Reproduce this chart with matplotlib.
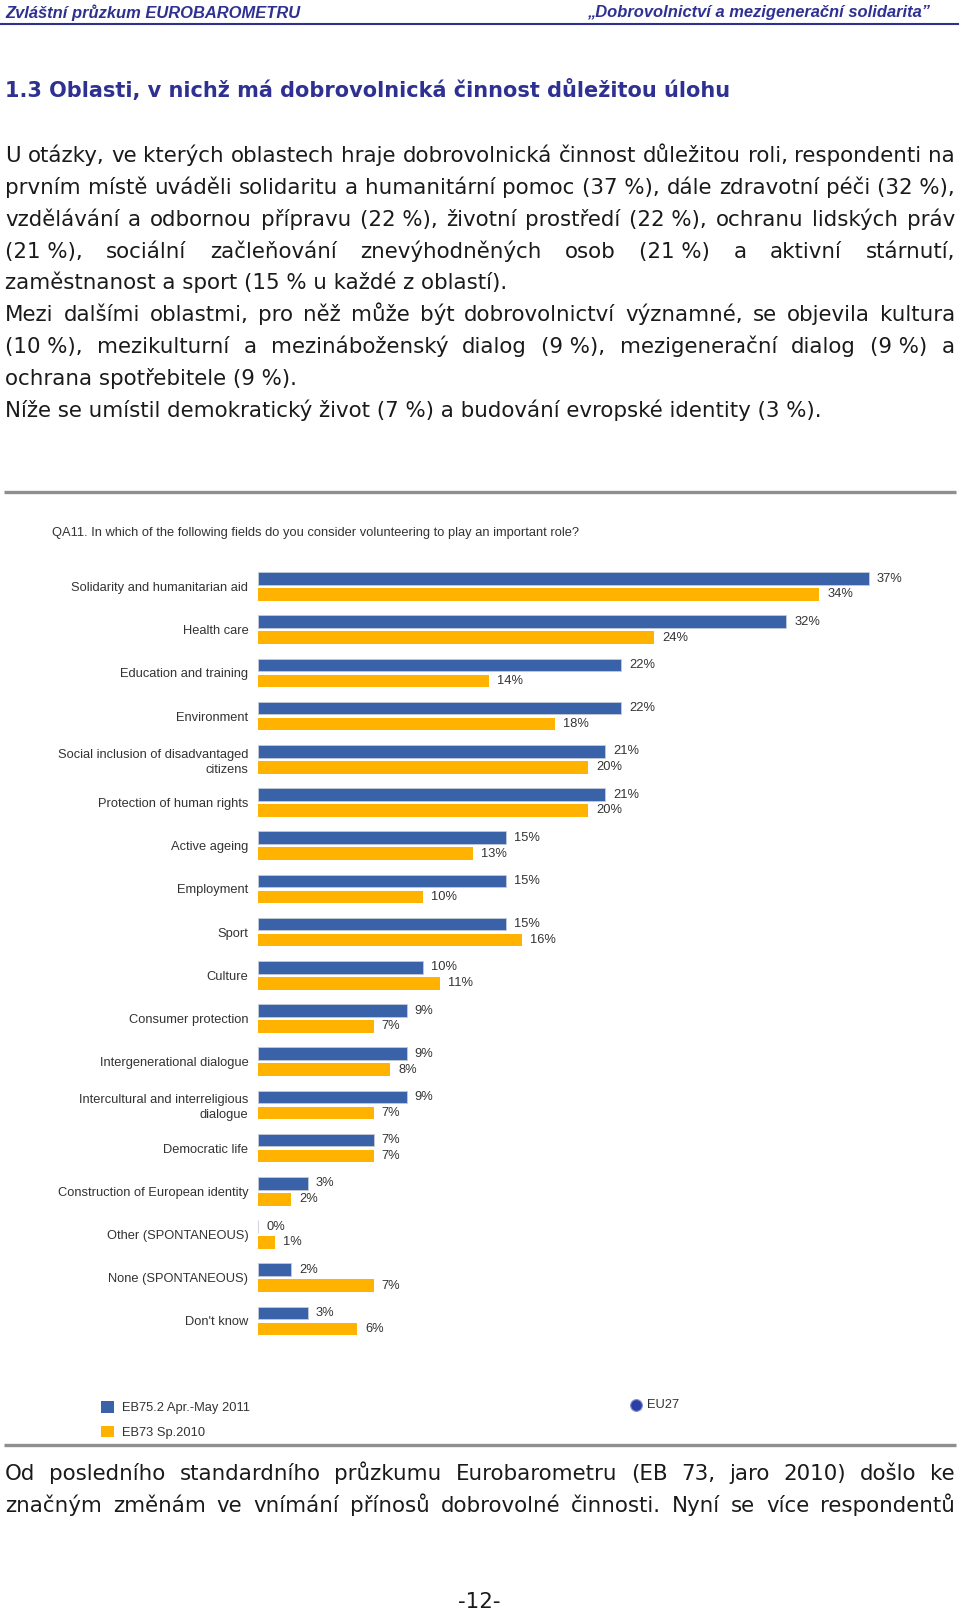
import matplotlib
matplotlib.use("Agg")
import matplotlib.pyplot as plt
from matplotlib import font_manager
from matplotlib.patches import Patch
import numpy as np

# --- data -------------------------------------------------------------
categories = [
    "Solidarity and humanitarian aid",
    "Health care",
    "Education and training",
    "Environment",
    "Social inclusion of disadvantaged\ncitizens",
    "Protection of human rights",
    "Active ageing",
    "Employment",
    "Sport",
    "Culture",
    "Consumer protection",
    "Intergenerational dialogue",
    "Intercultural and interreligious\ndialogue",
    "Democratic life",
    "Construction of European identity",
    "Other (SPONTANEOUS)",
    "None (SPONTANEOUS)",
    "Don't know",
]
eb75 = [37, 32, 22, 22, 21, 21, 15, 15, 15, 10, 9, 9, 9, 7, 3, 0, 2, 3]
eb73 = [34, 24, 14, 18, 20, 20, 13, 10, 16, 11, 7, 8, 7, 7, 2, 1, 7, 6]
series_names = ["EB75.2 Apr.-May 2011", "EB73 Sp.2010"]

header_left = "Zvláštní průzkum EUROBAROMETRU"
header_right = "„Dobrovolnictví a mezigenerační solidarita”"
section_title = "1.3 Oblasti, v nichž má dobrovolnická činnost důležitou úlohu"
chart_title = "QA11. In which of the following fields do you consider volunteering to play an important role?"

NB = "\u00a0"
body_lines = [
    ("U otázky, ve kterých oblastech hraje dobrovolnická činnost důležitou roli, respondenti na", True),
    (f"prvním místě uváděli solidaritu a humanitární pomoc (37{NB}%), dále zdravotní péči (32{NB}%),", True),
    (f"vzdělávání a odbornou přípravu (22{NB}%), životní prostředí (22{NB}%), ochranu lidských práv", True),
    (f"(21{NB}%), sociální začleňování znevýhodněných osob (21{NB}%) a aktivní stárnutí,", True),
    (f"zaměstnanost a sport (15{NB}% u každé z oblastí).", False),
    ("Mezi dalšími oblastmi, pro něž může být dobrovolnictví významné, se objevila kultura", True),
    (f"(10{NB}%), mezikulturní a mezináboženský dialog (9{NB}%), mezigenerační dialog (9{NB}%) a", True),
    (f"ochrana spotřebitele (9{NB}%).", False),
    (f"Níže se umístil demokratický život (7{NB}%) a budování evropské identity (3{NB}%).", False),
]
bottom_lines = [
    "Od posledního standardního průzkumu Eurobarometru (EB 73, jaro 2010) došlo ke",
    "značným změnám ve vnímání přínosů dobrovolné činnosti. Nyní se více respondentů",
]

BLUE = "#3a62a9"
YELLOW = "#ffb300"
NAVY = "#2e3192"
GREY = "#8f8f8f"
TXT = "#1a1a1a"

names = {f.name for f in font_manager.fontManager.ttflist}
NARROW = "Liberation Sans Narrow" if "Liberation Sans Narrow" in names else "Liberation Sans"

W, H = 960, 1612
fig = plt.figure(figsize=(W / 100, H / 100), dpi=100)
bg = fig.add_axes([0, 0, 1, 1])
bg.set_xlim(0, W)
bg.set_ylim(H, 0)
bg.axis("off")
renderer = fig.canvas.get_renderer()


def width_of(text, size, **kw):
    t = bg.text(0, 0, text, fontsize=size, **kw)
    w = t.get_window_extent(renderer).width
    t.remove()
    return w


def fit(text, target, **kw):
    return 10 * target / width_of(text, 10, **kw)


def put_line(text, y, size, justify, left=5, right=955):
    words = text.split(" ")
    if not justify:
        bg.text(left, y, text, fontsize=size, color=TXT, va="baseline")
        return
    widths = [width_of(w, size) for w in words]
    gap = (right - left - sum(widths)) / (len(words) - 1)
    x = left
    for w, wd in zip(words, widths):
        bg.text(x, y, w, fontsize=size, color=TXT, va="baseline")
        x += wd + gap


# --- header -----------------------------------------------------------
hs = fit(header_left, 296, family="Liberation Sans", weight="bold", style="italic")
bg.text(5, 13, header_left, fontsize=hs, family="Liberation Sans", weight="bold",
        style="italic", color=NAVY, va="center")
bg.text(930, 13, header_right, fontsize=hs, family="Liberation Sans", weight="bold",
        style="italic", color=NAVY, va="center", ha="right")
bg.plot([0, 958], [23.5, 23.5], color=NAVY, lw=1.5)

ts = fit(section_title, 725, weight="bold")
bg.text(5, 90, section_title, fontsize=ts, weight="bold", color=NAVY, va="center")

# --- body text --------------------------------------------------------
bs = fit(body_lines[-1][0], 819)
for i, (line, just) in enumerate(body_lines):
    put_line(line, 162 + i * 31.85, bs, just)

bg.plot([4, 956], [492, 492], color=GREY, lw=2.4, solid_capstyle="butt")
bg.plot([4, 956], [1445, 1445], color=GREY, lw=2.4, solid_capstyle="butt")

for i, line in enumerate(bottom_lines):
    put_line(line, 1480 + i * 32, bs, True)

bg.text(479, 1602, "-12-", fontsize=bs, color=TXT, ha="center", va="center")

# --- chart ------------------------------------------------------------
cs = fit(chart_title, 531, family=NARROW)
bg.text(52, 533, chart_title, fontsize=cs, family=NARROW, color="#333333", va="center")

n = len(categories)
top, step = 586.5, 43.2
ax_top = top - step / 2
ax_bot = top + (n - 0.5) * step
ax = fig.add_axes([258 / W, 1 - ax_bot / H, 660 / W, (ax_bot - ax_top) / H])
ax.set_xlim(0, 40)
ax.set_ylim(n - 0.5, -0.5)
y = np.arange(n)
off, bh = 0.185, 0.29
b1 = ax.barh(y - off, eb75, height=bh, color=BLUE, edgecolor="#c5cbd6", linewidth=0.6)
b2 = ax.barh(y + off, eb73, height=bh, color=YELLOW, edgecolor="none")
for bars, vals in ((b1, eb75), (b2, eb73)):
    for rect, v in zip(bars, vals):
        ax.annotate(f"{v}%", (rect.get_width(), rect.get_y() + rect.get_height() / 2),
                    xytext=(6, 0), textcoords="offset points", va="center", ha="left",
                    fontsize=cs, family=NARROW, color="#333333")
ax.set_yticks(y)
ax.set_yticklabels(categories, family=NARROW, fontsize=cs, color="#333333", linespacing=1.3)
ax.tick_params(axis="y", length=0, pad=7)
ax.set_xticks([])
for s in ax.spines.values():
    s.set_visible(False)

# --- legend -----------------------------------------------------------
handles = [Patch(facecolor=BLUE), Patch(facecolor=YELLOW)]
bg.legend(handles, series_names, loc="upper left", bbox_to_anchor=(101, 1401),
          bbox_transform=bg.transData, frameon=False, borderpad=0, borderaxespad=0,
          handlelength=1.0, handleheight=1.0, handletextpad=0.6, labelspacing=0.9,
          prop={"family": NARROW, "size": cs}, labelcolor="#333333")
bg.plot([636], [1405], marker="o", markersize=8.5, color="#2b3fa8",
        markeredgecolor="#8a93c9", markeredgewidth=0.8)
bg.text(647, 1405, "EU27", fontsize=cs, family=NARROW, color="#333333", va="center")

fig.savefig("out.png", dpi=100)
